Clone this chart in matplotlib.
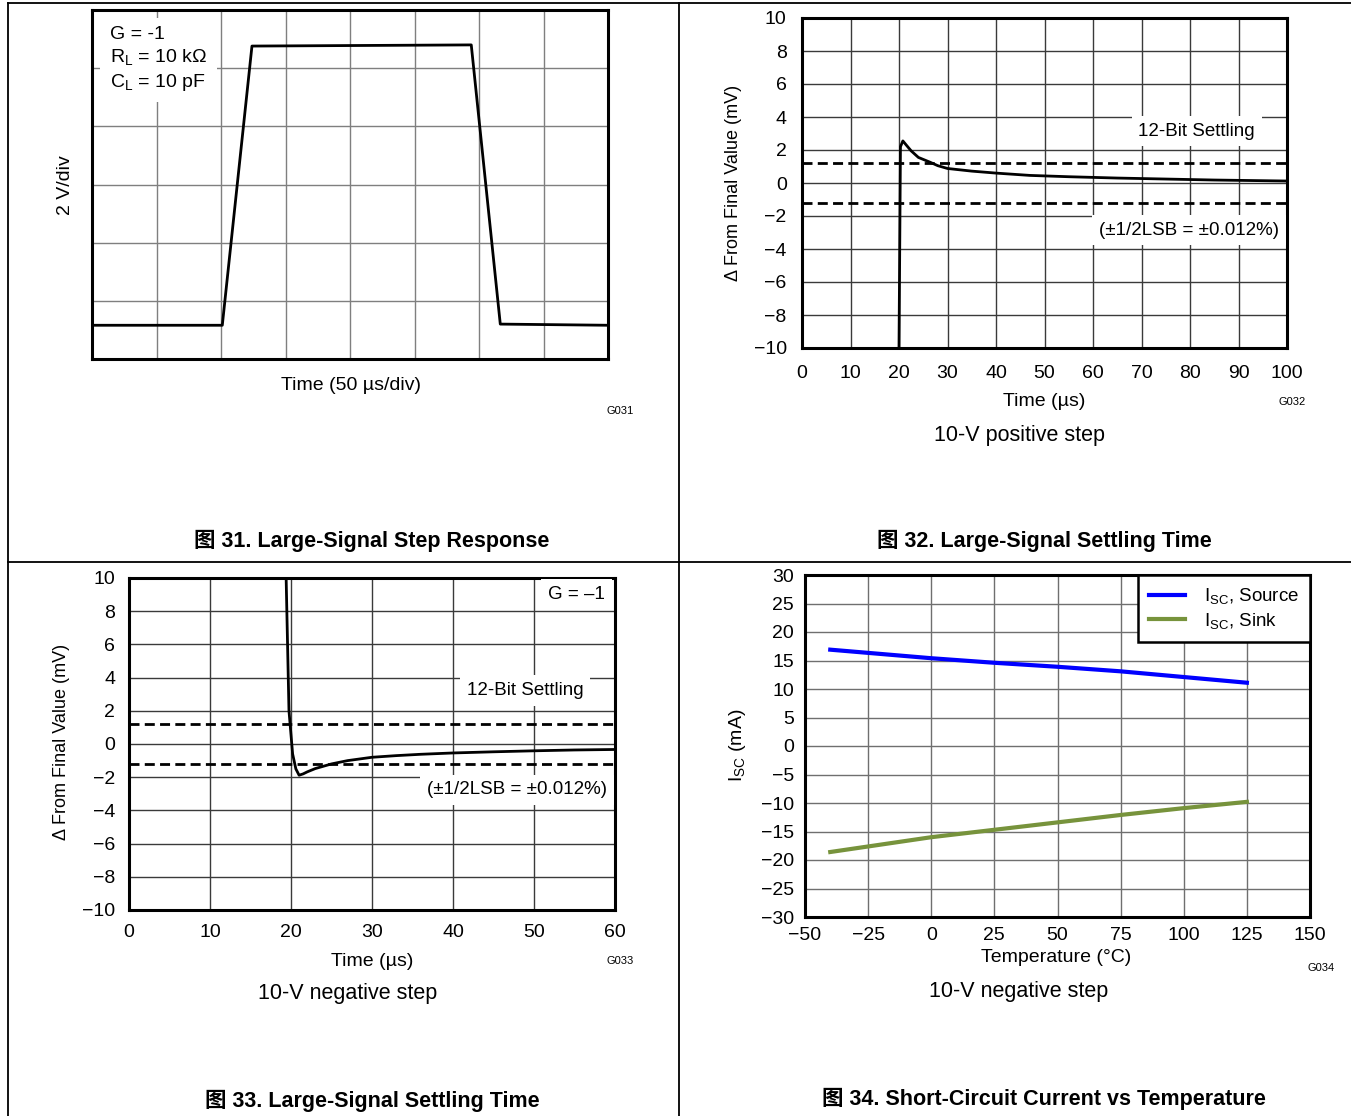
import matplotlib
matplotlib.use("Agg")
import matplotlib.pyplot as plt
from matplotlib import font_manager
from matplotlib.lines import Line2D

# ---------------- data ----------------
# Fig 31 (in scope divisions: x 0..8, y 0..6)
step_t = [0.0, 2.02, 2.48, 5.88, 6.33, 8.0]
step_v = [0.58, 0.58, 5.38, 5.40, 0.60, 0.58]

# Fig 32 positive step settling
pos_t = [20.0, 20.3, 20.8, 21.5, 22.5, 24, 26.4, 28, 30, 35, 40, 47, 55, 65, 75, 85, 100]
pos_v = [-10, 2.2, 2.55, 2.3, 1.95, 1.55, 1.26, 1.05, 0.88, 0.72, 0.6, 0.46, 0.38, 0.3, 0.24, 0.18, 0.12]

# Fig 33 negative step settling
neg_t = [19.4, 19.75, 20.2, 20.6, 21.0, 21.5, 22, 23, 25, 27, 30, 33, 36, 40, 45, 50, 55, 60]
neg_v = [10, 2.0, -0.6, -1.5, -1.88, -1.8, -1.68, -1.48, -1.2, -1.0, -0.8, -0.7, -0.62, -0.54, -0.47, -0.41, -0.36, -0.33]

lsb_half = 1.22  # mV

# Fig 34 short-circuit current
temp = [-40, 0, 25, 50, 75, 100, 125]
isc_source = [16.9, 15.4, 14.6, 13.9, 13.1, 12.1, 11.1]
isc_sink = [-18.6, -16.0, -14.7, -13.4, -12.1, -10.9, -9.8]

titles = ["图 31. Large-Signal Step Response",
          "图 32. Large-Signal Settling Time",
          "图 33. Large-Signal Settling Time",
          "图 34. Short-Circuit Current vs Temperature"]

# ---------------- fonts ----------------
names = {f.name for f in font_manager.fontManager.ttflist}
base = "Liberation Sans" if "Liberation Sans" in names else "DejaVu Sans"
narrow = "Liberation Sans Narrow" if "Liberation Sans Narrow" in names else base
plt.rcParams['font.family'] = [base, 'Noto Sans CJK SC', 'DejaVu Sans']
plt.rcParams['mathtext.fontset'] = 'custom'
plt.rcParams['mathtext.rm'] = base
plt.rcParams['axes.unicode_minus'] = True

W, H = 1351, 1116
fig = plt.figure(figsize=(W / 100, H / 100), dpi=100)

FS = 14


def ax_px(l, t, r, b):
    return fig.add_axes([l / W, 1 - b / H, (r - l) / W, (b - t) / H])


def fig_text(x, y, s, **kw):
    fig.text(x / W, 1 - y / H, s, **kw)


# frame lines of the page
for (x0, y0, x1, y1) in [(8, 3, W, 3), (8, 562, W, 562), (8, 3, 8, H), (679, 3, 679, H)]:
    fig.add_artist(Line2D([x0 / W, x1 / W], [1 - y0 / H, 1 - y1 / H], color='black', lw=1.3))

title_font = dict(family=[narrow, 'Noto Sans CJK SC'], fontweight='bold', fontsize=15.5,
                  ha='center', va='center')


def style_axes(ax, gridcolor, xpad, ypad):
    for s in ax.spines.values():
        s.set_linewidth(2.2)
        s.set_color('black')
    ax.tick_params(length=0, labelsize=FS)
    ax.tick_params(axis='x', pad=xpad)
    ax.tick_params(axis='y', pad=ypad)
    ax.grid(True, color=gridcolor, lw=1.0)
    ax.set_axisbelow(True)


white = dict(facecolor='white', edgecolor='none', pad=5)

# ---------------- Fig 31 ----------------
ax1 = ax_px(92, 10, 608, 359)
ax1.set_xlim(0, 8)
ax1.set_ylim(0, 6)
ax1.set_xticks(range(9))
ax1.set_yticks(range(7))
ax1.set_xticklabels([])
ax1.set_yticklabels([])
style_axes(ax1, '#7f7f7f', 5, 5)
ax1.plot(step_t, step_v, color='black', lw=2.0)
ax1.text(0.28, 5.73, "G = -1\n$\\mathregular{R_L}$ = 10 kΩ\n$\\mathregular{C_L}$ = 10 pF",
         fontsize=FS, va='top', ha='left', linespacing=1.3,
         bbox=dict(facecolor='white', edgecolor='none', pad=7))
fig_text(65, 185, "2 V/div", rotation=90, fontsize=FS, ha='center', va='center')
fig_text(351, 386, "Time (50 µs/div)", fontsize=FS, ha='center', va='center')
fig_text(620, 411, "G031", fontsize=8, ha='center', va='center')
fig_text(372, 541, titles[0], **title_font)


def settling(ax, t, v, xmax, xstep, xpad, ypad, bit_xy, lsb_xy):
    ax.set_xlim(0, xmax)
    ax.set_ylim(-10, 10)
    ax.set_xticks(range(0, xmax + 1, xstep))
    ax.set_yticks(range(-10, 11, 2))
    style_axes(ax, '#3a3a3a', xpad, ypad)
    ax.axhline(lsb_half, color='black', lw=2.0, ls=(0, (3.6, 1.9)))
    ax.axhline(-lsb_half, color='black', lw=2.0, ls=(0, (3.6, 1.9)))
    ax.plot(t, v, color='black', lw=2.0, clip_on=True)
    ax.text(bit_xy[0], bit_xy[1], "12-Bit Settling", fontsize=13.5, ha='center', va='center',
            bbox=white)
    ax.text(lsb_xy[0], lsb_xy[1], "(±1/2LSB = ±0.012%)", fontsize=13.5, ha='center',
            va='center', bbox=white)


# ---------------- Fig 32 ----------------
ax2 = ax_px(802, 18, 1287, 348)
settling(ax2, pos_t, pos_v, 100, 10, 12, 11, (81.4, 3.15), (79.8, -2.85))
fig_text(733, 183, "Δ From Final Value (mV)", rotation=90, fontsize=13, ha='center', va='center')
fig_text(1044, 402, "Time (µs)", fontsize=FS, ha='center', va='center')
fig_text(1292, 402, "G032", fontsize=8, ha='center', va='center')
fig_text(1019, 435, "10-V positive step", fontsize=15.5, ha='center', va='center')
fig_text(1044, 541, titles[1], **title_font)

# ---------------- Fig 33 ----------------
ax3 = ax_px(129, 578, 615, 910)
settling(ax3, neg_t, neg_v, 60, 10, 10, 10, (48.9, 3.2), (47.9, -2.77))
ax3.text(58.8, 9.0, "G = –1", fontsize=13.5, ha='right', va='center', bbox=white)
fig_text(62, 742, "Δ From Final Value (mV)", rotation=90, fontsize=13, ha='center', va='center')
fig_text(372, 961, "Time (µs)", fontsize=FS, ha='center', va='center')
fig_text(620, 961, "G033", fontsize=8, ha='center', va='center')
fig_text(348, 994, "10-V negative step", fontsize=15.5, ha='center', va='center')
fig_text(372, 1101, titles[2], **title_font)

# ---------------- Fig 34 ----------------
ax4 = ax_px(805, 575, 1310, 917)
ax4.set_xlim(-50, 150)
ax4.set_ylim(-30, 30)
ax4.set_xticks(range(-50, 151, 25))
ax4.set_yticks(range(-30, 31, 5))
style_axes(ax4, '#6f6f6f', 7, 8)
ax4.plot(temp, isc_source, color='#0000ff', lw=3.0, label="$\\mathregular{I_{SC}}$, Source")
ax4.plot(temp, isc_sink, color='#77933c', lw=3.0, label="$\\mathregular{I_{SC}}$, Sink")
leg = ax4.legend(loc='upper right', fontsize=13.5, frameon=True, fancybox=False,
                 borderaxespad=0, handlelength=1.9, labelspacing=0.25, borderpad=0.6,
                 handletextpad=1.0, framealpha=1)
leg.get_frame().set_edgecolor('black')
leg.get_frame().set_linewidth(1.8)
fig_text(737, 745, "$\\mathregular{I_{SC}}$ (mA)", rotation=90, fontsize=FS, ha='center', va='center')
fig_text(1056, 958, "Temperature (°C)", fontsize=FS, ha='center', va='center')
fig_text(1321, 968, "G034", fontsize=8, ha='center', va='center')
fig_text(1019, 991, "10-V negative step", fontsize=15.5, ha='center', va='center')
fig_text(1044, 1099, titles[3], **title_font)

fig.savefig("out.png", dpi=100)
